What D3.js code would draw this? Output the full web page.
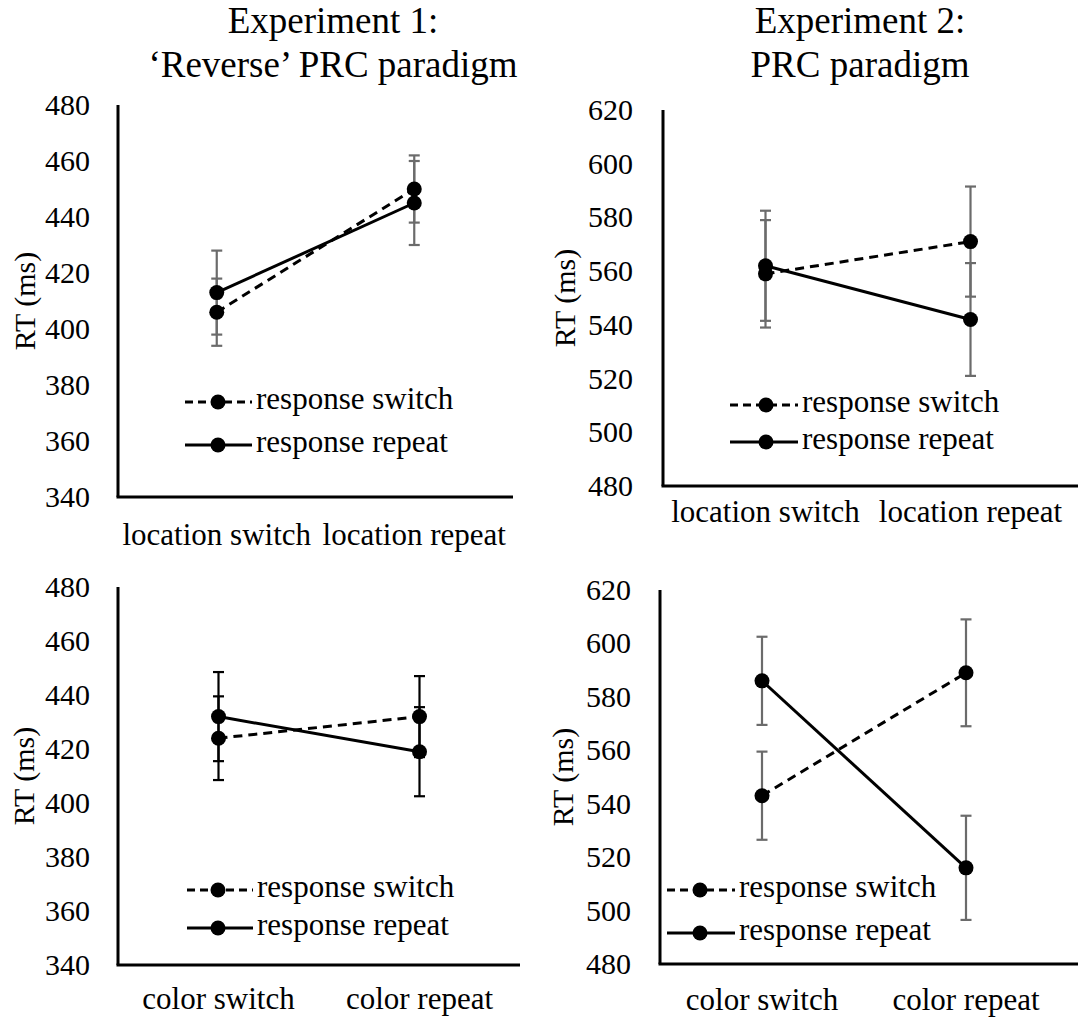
<!DOCTYPE html>
<html>
<head>
<meta charset="utf-8">
<script src="https://cdn.jsdelivr.net/npm/d3@7"></script>
<style>
  html, body { margin: 0; padding: 0; background: #fff; }
  svg { display: block; }
</style>
</head>
<body>
<svg id="chart" width="1078" height="1021"></svg>
<script>
// ---------- data ----------
const titles1 = ["Experiment 1:", "\u2018Reverse\u2019 PRC paradigm"];
const titles2 = ["Experiment 2:", "PRC paradigm"];
const seriesNames = ["response switch", "response repeat"];
const locationCats = ["location switch", "location repeat"];
const colorCats = ["color switch", "color repeat"];
const exp1Ticks = [340, 360, 380, 400, 420, 440, 460, 480];
const exp2Ticks = [480, 500, 520, 540, 560, 580, 600, 620];

// Panel A: Exp 1, location
const exp1LocSwitch = [406, 450];
const exp1LocSwitchErr = [12, 12];
const exp1LocRepeat = [413, 445];
const exp1LocRepeatErr = [15, 15];
// Panel B: Exp 2, location
const exp2LocSwitch = [559, 571];
const exp2LocSwitchErr = [20, 20.5];
const exp2LocRepeat = [562, 542];
const exp2LocRepeatErr = [20.5, 21];
// Panel C: Exp 1, color
const exp1ColSwitch = [424, 432];
const exp1ColSwitchErr = [15.5, 15];
const exp1ColRepeat = [432, 419];
const exp1ColRepeatErr = [16.5, 16.5];
// Panel D: Exp 2, color
const exp2ColSwitch = [543, 589];
const exp2ColSwitchErr = [16.5, 20];
const exp2ColRepeat = [586, 516];
const exp2ColRepeatErr = [16.5, 19.5];

// ---------- layout ----------
const FONT = "'Liberation Serif'";
const svg = d3.select("#chart");

function txt(sel) { return sel.style("font-family", FONT).attr("fill", "#000"); }

const panels = [
  { cats: locationCats, ticks: exp1Ticks, sw: exp1LocSwitch, swE: exp1LocSwitchErr, rp: exp1LocRepeat, rpE: exp1LocRepeatErr,
    x0: 118, x1: 513, lineEnd: 513, yTop: 105, yBot: 497, tickX: 90, titleX: 25,
    labelY: 545, errColor: "#6b6b6b", legX: 185, legMid: 218, legW: 67, legY: [402, 445] },
  { cats: locationCats, ticks: exp2Ticks, sw: exp2LocSwitch, swE: exp2LocSwitchErr, rp: exp2LocRepeat, rpE: exp2LocRepeatErr,
    x0: 663, x1: 1073, lineEnd: 1078, yTop: 110, yBot: 486, tickX: 633, titleX: 565,
    labelY: 522, errColor: "#6b6b6b", legX: 730, legMid: 766, legW: 68, legY: [405, 442] },
  { cats: colorCats, ticks: exp1Ticks, sw: exp1ColSwitch, swE: exp1ColSwitchErr, rp: exp1ColRepeat, rpE: exp1ColRepeatErr,
    x0: 118, x1: 520, lineEnd: 520, yTop: 587, yBot: 965, tickX: 90, titleX: 24,
    labelY: 1009, errColor: "#000", legX: 187, legMid: 218, legW: 66, legY: [890, 928] },
  { cats: colorCats, ticks: exp2Ticks, sw: exp2ColSwitch, swE: exp2ColSwitchErr, rp: exp2ColRepeat, rpE: exp2ColRepeatErr,
    x0: 660, x1: 1068, lineEnd: 1078, yTop: 590, yBot: 964, tickX: 631, titleX: 563,
    labelY: 1010, errColor: "#6b6b6b", legX: 667, legMid: 700, legW: 68, legY: [890, 933] }
];

const DASH = "9,6";
const R = 7.5;

panels.forEach(p => {
  const g = svg.append("g");
  const x = d3.scalePoint().domain(p.cats).range([p.x0, p.x1]).padding(0.5);
  const y = d3.scaleLinear().domain([p.ticks[0], p.ticks[p.ticks.length - 1]]).range([p.yBot, p.yTop]);

  // y tick labels
  txt(g.selectAll(".yt").data(p.ticks).enter().append("text"))
    .attr("x", p.tickX).attr("y", d => y(d) + 10)
    .attr("text-anchor", "end")
    .style("font-size", "30px").text(d => d);

  // axis lines
  g.append("line").attr("x1", p.x0).attr("x2", p.x0).attr("y1", y.range()[1]).attr("y2", p.yBot)
    .attr("stroke", "#000").attr("stroke-width", 3);
  g.append("line").attr("x1", p.x0 - 1.5).attr("x2", p.lineEnd).attr("y1", p.yBot).attr("y2", p.yBot)
    .attr("stroke", "#000").attr("stroke-width", 3);

  // x labels
  txt(g.selectAll(".xl").data(p.cats).enter().append("text"))
    .attr("x", d => x(d)).attr("y", p.labelY)
    .attr("text-anchor", "middle").style("font-size", "31px").text(d => d);

  // y axis title
  txt(g.append("text"))
    .attr("transform", `translate(${p.titleX + 10},${(p.yTop + p.yBot) / 2}) rotate(-90)`)
    .attr("text-anchor", "middle")
    .style("font-size", "30px").text("RT (ms)");

  const series = [
    { vals: p.sw, errs: p.swE, dash: DASH },
    { vals: p.rp, errs: p.rpE, dash: null }
  ];

  // error bars
  series.forEach(s => {
    s.vals.forEach((v, i) => {
      const cx = x(p.cats[i]);
      const lo = y(v - s.errs[i]), hi = y(v + s.errs[i]);
      g.append("line").attr("x1", cx).attr("x2", cx).attr("y1", lo).attr("y2", hi)
        .attr("stroke", p.errColor).attr("stroke-width", 2.2);
      [lo, hi].forEach(yy => {
        g.append("line").attr("x1", cx - 5.5).attr("x2", cx + 5.5).attr("y1", yy).attr("y2", yy)
          .attr("stroke", p.errColor).attr("stroke-width", 2.2);
      });
    });
  });

  // lines
  const line = d3.line().x((d, i) => x(p.cats[i])).y(d => y(d));
  series.forEach(s => {
    g.append("path").datum(s.vals).attr("d", line)
      .attr("fill", "none").attr("stroke", "#000").attr("stroke-width", 3)
      .attr("stroke-dasharray", s.dash);
  });
  // markers
  series.forEach(s => {
    g.selectAll(null).data(s.vals).enter().append("circle")
      .attr("cx", (d, i) => x(p.cats[i])).attr("cy", d => y(d)).attr("r", R).attr("fill", "#000");
  });

  // legend
  series.forEach((s, k) => {
    const ly = p.legY[k];
    g.append("line").attr("x1", p.legX).attr("x2", p.legX + p.legW).attr("y1", ly).attr("y2", ly)
      .attr("stroke", "#000").attr("stroke-width", 3).attr("stroke-dasharray", s.dash ? "8,5" : null);
    g.append("circle").attr("cx", p.legMid).attr("cy", ly).attr("r", R).attr("fill", "#000");
    txt(g.append("text")).attr("x", p.legX + p.legW + 4).attr("y", ly + 7)
      .style("font-size", "31px").text(seriesNames[k]);
  });
});

// titles
txt(svg.append("g").selectAll("text").data(titles1).enter().append("text"))
  .attr("x", 333).attr("y", (d, i) => 33 + i * 44)
  .attr("text-anchor", "middle").style("font-size", "37px").text(d => d);
txt(svg.append("g").selectAll("text").data(titles2).enter().append("text"))
  .attr("x", 860).attr("y", (d, i) => 33 + i * 44)
  .attr("text-anchor", "middle").style("font-size", "37px").text(d => d);
</script>
</body>
</html>
